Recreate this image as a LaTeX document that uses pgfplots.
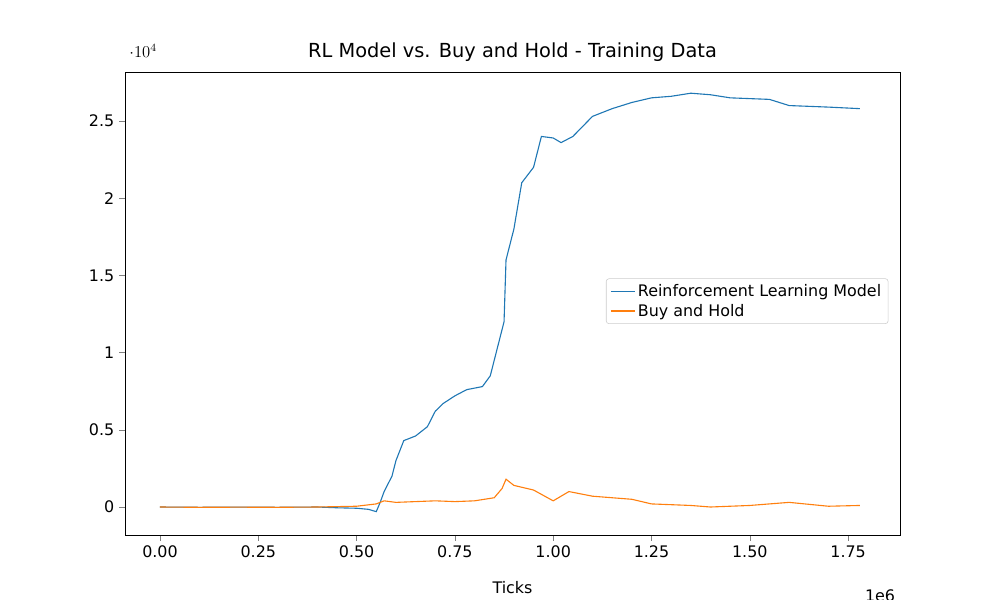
\documentclass[border=0pt]{standalone}
\usepackage{pgfplots}
\pgfplotsset{compat=1.18}
\usepackage{fontspec}
\setmainfont{DejaVu Sans}
\definecolor{c1}{HTML}{1F77B4}
\definecolor{c2}{HTML}{FF7F0E}
\begin{document}
\begin{tikzpicture}
\path[use as bounding box] (-1.25in,-0.65in) rectangle (8.75in,5.35in);
\begin{axis}[at={(0,0)},anchor=south west,scale only axis,
width=7.75in,height=4.63in,
xmin=-0.089,xmax=1.882,ymin=-1813,ymax=28174,
xtick={0,0.25,0.5,0.75,1,1.25,1.5,1.75},
xticklabel style={/pgf/number format/fixed,/pgf/number format/fixed zerofill,/pgf/number format/precision=2},
scaled x ticks=false,
ytick={0,5000,10000,15000,20000,25000},
yticklabel style={/pgf/number format/set thousands separator={}},
/pgf/number format/assume math mode=true,
tick label style={font=\fontsize{11.5}{13}\selectfont},
title={RL Model vs. Buy and Hold - Training Data},
title style={font=\fontsize{14}{16}\selectfont,yshift=-2pt},
xlabel={Ticks},xlabel style={font=\fontsize{11.5}{13}\selectfont,yshift=-10pt},
tick align=outside,tick pos=left,
legend style={at={(0.985,0.505)},anchor=east,font=\fontsize{11.5}{13}\selectfont,draw=black!20,rounded corners=2pt},
legend cell align=left,
]
\addplot[c1,thick] coordinates {(0,0)(0.1,-20)(0.2,-10)(0.3,-20)(0.4,0)(0.45,-50)(0.5,-80)(0.53,-150)(0.55,-300)(0.56,300)(0.57,1000)(0.59,2000)(0.6,3000)(0.62,4300)(0.65,4600)(0.68,5200)(0.7,6200)(0.72,6700)(0.75,7200)(0.78,7600)(0.82,7800)(0.84,8500)(0.86,10500)(0.875,12000)(0.88,16000)(0.9,18000)(0.92,21000)(0.95,22000)(0.97,24000)(1.0,23900)(1.02,23600)(1.05,24000)(1.1,25300)(1.15,25800)(1.2,26200)(1.25,26500)(1.3,26600)(1.35,26800)(1.4,26700)(1.45,26500)(1.55,26400)(1.6,26000)(1.7,25900)(1.78,25800)};
\addlegendentry{Reinforcement Learning Model}
\addplot[c2,thick] coordinates {(0,0)(0.1,-20)(0.2,-10)(0.3,-20)(0.4,0)(0.5,50)(0.55,200)(0.57,400)(0.6,300)(0.65,350)(0.7,400)(0.75,350)(0.8,400)(0.85,600)(0.87,1200)(0.88,1800)(0.9,1400)(0.95,1100)(1.0,400)(1.04,1000)(1.1,700)(1.2,500)(1.25,200)(1.35,100)(1.4,0)(1.5,100)(1.6,300)(1.7,50)(1.78,100)};
\addlegendentry{Buy and Hold}
\end{axis}
\node[font=\fontsize{11.5}{13}\selectfont,anchor=north east] at (7.75in,-0.5in) {1e6};
\end{tikzpicture}
\end{document}
